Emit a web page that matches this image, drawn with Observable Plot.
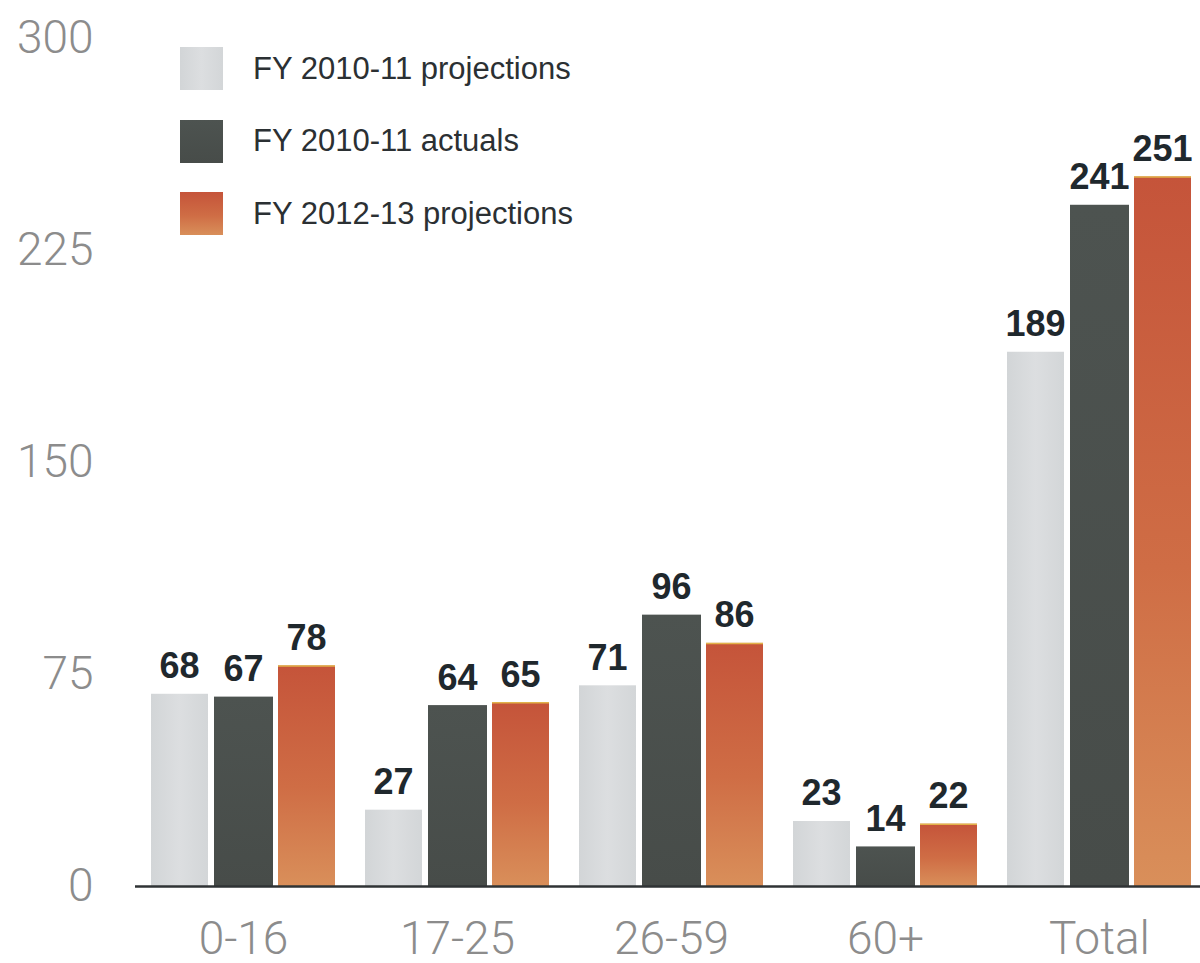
<!DOCTYPE html>
<html>
<head>
<meta charset="utf-8">
<script src="https://cdn.jsdelivr.net/npm/d3@7"></script>
<script src="https://cdn.jsdelivr.net/npm/@observablehq/plot@0.6"></script>
<style>
  html, body { margin: 0; padding: 0; background: #fff; }
  #wrap { position: relative; width: 1200px; height: 963px; }
  #legend { position: absolute; left: 180px; top: 47px; font-family: "Liberation Sans", Arial, sans-serif; font-size: 31px; color: #2b3033; }
  .row { display: flex; align-items: center; height: 43px; margin-bottom: 29.5px; }
  .sw { width: 43px; height: 43px; margin-right: 30px; flex: none; }
</style>
</head>
<body>
<div id="wrap"></div>
<script>
const categories = ["0-16", "17-25", "26-59", "60+", "Total"];
const seriesNames = ["FY 2010-11 projections", "FY 2010-11 actuals", "FY 2012-13 projections"];
const proj1011 = [68, 27, 71, 23, 189];
const actual1011 = [67, 64, 96, 14, 241];
const proj1213 = [78, 65, 86, 22, 251];
const yTicks = [0, 75, 150, 225, 300];

const seriesValues = [proj1011, actual1011, proj1213];
const fills = ["url(#gLight)", "url(#gDark)", "url(#gOrange)"];
const insets = [[15, 142], [78, 77], [142, 15]];
const labelDx = [-64, 0, 63];

const rows = [];
seriesValues.forEach((vals, si) => {
  vals.forEach((v, ci) => rows.push({group: categories[ci], series: seriesNames[si], si, value: v}));
});

function defs() {
  const ns = "http://www.w3.org/2000/svg";
  const d = document.createElementNS(ns, "defs");
  const grads = [
    ["gLight", [["0%", "#d2d5d7"], ["50%", "#dcdee0"], ["100%", "#d3d6d8"]], true],
    ["gDark", [["0%", "#4d5350"], ["100%", "#474c49"]], false],
    ["gOrange", [["0%", "#c5543a"], ["55%", "#cf6d45"], ["100%", "#d98f5a"]], false]
  ];
  for (const [id, stops, horiz] of grads) {
    const g = document.createElementNS(ns, "linearGradient");
    g.setAttribute("id", id);
    g.setAttribute("x1", "0"); g.setAttribute("y1", "0");
    g.setAttribute("x2", horiz ? "1" : "0"); g.setAttribute("y2", horiz ? "0" : "1");
    for (const [off, col] of stops) {
      const s = document.createElementNS(ns, "stop");
      s.setAttribute("offset", off); s.setAttribute("stop-color", col);
      g.appendChild(s);
    }
    d.appendChild(g);
  }
  const gg = document.createElementNS(ns, "g");
  gg.appendChild(d);
  return gg;
}

const labelFont = "'Liberation Sans', Arial, sans-serif";
const axisFont = "Roboto, 'Open Sans', sans-serif";
const marks = [defs];
seriesNames.forEach((name, si) => {
  const data = rows.filter(r => r.si === si);
  marks.push(Plot.barY(data, {
    x: "group", y: "value", fill: fills[si],
    insetLeft: insets[si][0], insetRight: insets[si][1]
  }));
  if (si === 2) {
    marks.push(Plot.tickY(data, {
      x: "group", y: "value", stroke: "#e2b24a", strokeWidth: 1.5,
      insetLeft: insets[si][0], insetRight: insets[si][1]
    }));
  }
  marks.push(Plot.text(data, {
    x: "group", y: "value", text: d => String(d.value),
    dx: labelDx[si], dy: -16, lineAnchor: "bottom",
    fontSize: 36, fontWeight: "bold", fill: "#1f282d",
    fontFamily: labelFont
  }));
});
marks.push(Plot.ruleY([0], {stroke: "#2f3335", strokeWidth: 2.5}));
marks.push(Plot.axisY(yTicks, {
  tickSize: 0, tickPadding: 42, fontSize: 46, fontWeight: 300,
  color: "#8c8c8c", fontFamily: axisFont, label: null
}));
marks.push(Plot.axisX(categories, {
  tickSize: 0, tickPadding: 35, fontSize: 46, fontWeight: 300,
  color: "#8c8c8c", fontFamily: axisFont, label: null
}));

const chart = Plot.plot({
  width: 1200,
  height: 963,
  marginLeft: 135,
  marginRight: -7,
  marginTop: 38,
  marginBottom: 77,
  style: {background: "transparent", overflow: "visible"},
  x: {domain: categories, padding: 0, axis: null},
  y: {domain: [0, 300], axis: null},
  marks
});

const wrap = document.getElementById("wrap");
wrap.appendChild(chart);

const legend = document.createElement("div");
legend.id = "legend";
const swatchBg = [
  "linear-gradient(90deg, #d2d5d7, #dcdee0, #d3d6d8)",
  "linear-gradient(180deg, #4d5350, #474c49)",
  "linear-gradient(180deg, #c5543a, #cf6d45 55%, #d98f5a)"
];
seriesNames.forEach((name, i) => {
  const row = document.createElement("div");
  row.className = "row";
  const sw = document.createElement("div");
  sw.className = "sw";
  sw.style.background = swatchBg[i];
  const t = document.createElement("span");
  t.textContent = name;
  row.appendChild(sw);
  row.appendChild(t);
  legend.appendChild(row);
});
wrap.appendChild(legend);
</script>
</body>
</html>
